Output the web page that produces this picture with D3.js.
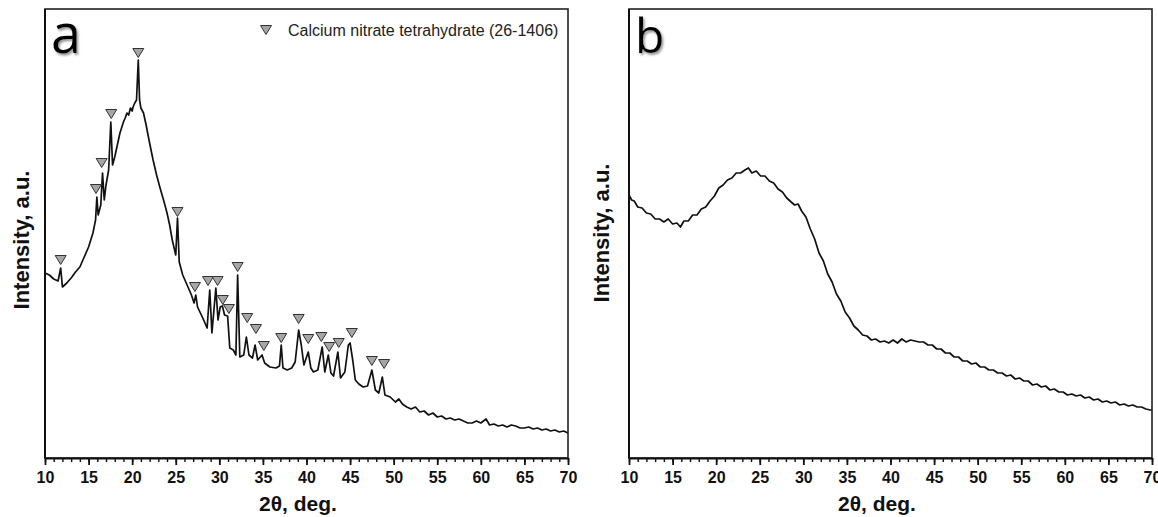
<!DOCTYPE html>
<html><head><meta charset="utf-8">
<script src="https://cdn.jsdelivr.net/npm/d3@7"></script>
<style>
html,body{margin:0;padding:0;background:#fff;}
svg{display:block;}
</style></head>
<body>
<svg id="chart" width="1158" height="517"></svg>
<script>
// ---------- DATA ----------
const xTickLabels = ["10","15","20","25","30","35","40","45","50","55","60","65","70"];
const legendLabel = "Calcium nitrate tetrahydrate (26-1406)";
const xTitle = "2\u03B8, deg.";
const yTitle = "Intensity, a.u.";

// Panel a: 2theta (deg) and intensity (a.u.)
const aTheta = [10.0,10.5,11.0,11.5,11.8,12.0,12.5,13.0,13.5,14.0,14.5,15.0,15.5,15.8,15.95,16.1,16.4,16.6,16.8,17.0,17.3,17.55,17.75,18.0,18.3,18.6,19.0,19.2,19.4,19.6,19.8,20.0,20.1,20.3,20.5,20.7,20.85,21.0,21.3,21.6,22.0,22.4,22.8,23.2,23.6,24.0,24.3,24.6,25.0,25.2,25.4,25.8,26.3,26.8,27.1,27.3,27.5,28.1,28.6,28.9,29.15,29.6,29.85,30.1,30.35,30.6,30.95,31.2,31.6,31.9,32.1,32.35,32.8,33.1,33.4,33.8,34.1,34.4,34.9,35.2,35.8,36.5,36.9,37.1,37.3,37.8,38.3,38.7,39.1,39.4,39.7,40.2,40.5,40.8,41.3,41.8,42.1,42.5,42.8,43.1,43.6,43.9,44.4,44.8,45.0,45.3,45.6,46.0,46.5,47.0,47.5,47.9,48.3,48.7,49.0,49.6,50.2,50.6,51.0,51.5,52.0,52.5,53.0,53.5,54.0,54.5,55.0,55.5,56.0,56.5,57.0,57.5,58.0,58.5,59.0,59.5,60.0,60.6,61.0,61.5,62.0,62.5,63.0,63.5,64.0,64.5,65.0,65.5,66.0,66.5,67.0,67.5,68.0,68.5,69.0,69.5,70.0];
const aIntensity = [185,183,179,177,190,171,175,180,186,191,201,211,225,238,261,243,253,285,258,273,288,336,293,301,313,325,336,340,345,343,350,347,351,355,358,398,358,350,345,333,315,298,283,270,258,245,233,218,203,240,196,183,173,163,155,163,151,140,130,168,125,170,138,151,152,143,142,110,108,103,183,101,103,121,103,100,113,98,103,95,91,90,92,113,90,88,90,96,128,113,93,106,90,86,88,111,86,103,85,82,106,80,86,113,115,98,78,74,71,72,88,68,65,81,63,61,56,59,54,51,49,51,46,47,43,45,41,42,39,40,38,39,37,35,35,37,35,39,33,34,32,33,31,33,32,30,30,31,29,30,28,29,27,28,26,27,25];

// Peak markers (Calcium nitrate tetrahydrate, 26-1406)
const markTheta = [11.8,15.85,16.5,17.6,20.7,25.2,27.2,28.7,29.8,30.4,31.1,32.1,33.2,34.2,35.1,37.1,39.1,40.2,41.7,42.6,43.7,45.2,47.5,48.9];
const markIntensity = [198,269,295,344,405,246,171,177,177,158,149,191,140,129,112,120,139,119,121,111,115,125,97,94];

// Panel b
const bTheta = [10.0,10.3,10.6,11.0,11.5,12.0,12.5,13.0,13.5,14.0,14.5,15.0,15.5,15.9,16.3,16.8,17.3,17.8,18.3,18.8,19.3,19.8,20.3,20.8,21.3,21.8,22.3,22.8,23.3,23.7,24.1,24.6,25.1,25.6,26.1,26.6,27.1,27.6,28.1,28.6,29.0,29.4,29.8,30.3,30.8,31.3,31.8,32.3,32.8,33.3,33.8,34.3,34.8,35.3,35.8,36.3,36.8,37.3,37.8,38.3,38.8,39.3,39.8,40.3,40.8,41.3,41.8,42.3,42.8,43.3,43.8,44.3,44.8,45.3,45.8,46.3,46.8,47.3,47.8,48.3,48.8,49.3,49.8,50.3,50.8,51.3,51.8,52.3,52.8,53.3,53.8,54.3,54.8,55.3,55.8,56.3,56.8,57.3,57.8,58.3,58.8,59.3,59.8,60.3,60.8,61.3,61.8,62.3,62.8,63.3,63.8,64.3,64.8,65.3,65.8,66.3,66.8,67.3,67.8,68.3,68.8,69.3,69.8,70.0];
const bIntensity = [263,258,257,251,250,245,244,239,239,236,239,234,235,231,237,237,243,243,249,251,257,262,270,273,278,280,285,285,288,290,285,287,282,282,277,275,269,266,260,256,253,254,247,241,229,219,205,197,184,176,164,157,146,140,132,128,123,122,118,119,116,117,115,118,115,119,116,118,117,116,116,113,113,109,109,105,105,101,101,97,97,94,95,91,91,88,88,85,85,82,83,79,80,77,77,73,74,71,72,68,69,66,66,63,64,62,63,60,61,58,59,56,57,55,56,53,54,52,53,51,51,49,48,48];

// ---------- LAYOUT ----------
const svg = d3.select("#chart");
const plotTop = 9, plotBottom = 458;
const FONT = "'Liberation Sans', Arial, Helvetica, sans-serif";

const defs = svg.append("defs");
const f = defs.append("filter").attr("id","shadow").attr("x","-20%").attr("y","-20%").attr("width","160%").attr("height","160%");
f.append("feDropShadow").attr("dx",1.5).attr("dy",2).attr("stdDeviation",1.2).attr("flood-color","#888").attr("flood-opacity",0.9);

function panel(left, right, theta, inten, letter, letterSize, yLabelX, yLabelY, titleX) {
  const x = d3.scaleLinear().domain([+xTickLabels[0], +xTickLabels[xTickLabels.length-1]]).range([left, right]);
  const y = d3.scaleLinear().domain([0, 449]).range([plotBottom, plotTop]);
  const g = svg.append("g");

  const line = d3.line().x((d,i)=>x(theta[i])).y((d,i)=>y(inten[i]));
  g.append("path").datum(inten).attr("d", line)
    .attr("fill","none").attr("stroke","#111").attr("stroke-width",1.7).attr("stroke-linejoin","round");

  g.append("rect").attr("x",left).attr("y",plotTop).attr("width",right-left).attr("height",plotBottom-plotTop)
    .attr("fill","none").attr("stroke","#222").attr("stroke-width",1.6);
  g.append("line").attr("x1",left).attr("x2",left).attr("y1",plotTop).attr("y2",plotBottom)
    .attr("stroke","#111").attr("stroke-width",2);

  const minor = d3.range(10, 71, 1);
  const minorAxis = d3.axisBottom(x).tickValues(minor).tickSize(4).tickFormat("");
  const gm = g.append("g").attr("transform",`translate(0,${plotBottom})`).call(minorAxis);
  gm.select(".domain").remove();
  gm.selectAll("line").attr("stroke","#111").attr("stroke-width",1.4);

  const majorAxis = d3.axisBottom(x).tickValues(xTickLabels.map(Number)).tickSize(7).tickSizeOuter(0).tickFormat((d,i)=>xTickLabels[i]);
  const ga = g.append("g").attr("transform",`translate(0,${plotBottom})`).call(majorAxis);
  ga.select(".domain").attr("stroke","#111").attr("stroke-width",2);
  ga.selectAll("line").attr("stroke","#111").attr("stroke-width",1.8);
  ga.selectAll("text").attr("y",25).attr("dy",0)
    .style("font-family",FONT).style("font-size","16px").style("font-weight","bold").attr("fill","#111");

  g.append("text").attr("x",titleX).attr("y",511).attr("text-anchor","middle")
    .style("font-family",FONT).style("font-size","21px").style("font-weight","bold").attr("fill","#111").text(xTitle);
  g.append("text").attr("transform",`translate(${yLabelX},${yLabelY}) rotate(-90)`).attr("text-anchor","middle")
    .style("font-family",FONT).style("font-size","22px").style("font-weight","bold").attr("fill","#111").text(yTitle);

  g.append("text").attr("x",left+6).attr("y",53)
    .style("font-family","'Open Sans', sans-serif").style("font-size",letterSize+"px").attr("fill","#000")
    .attr("filter","url(#shadow)").text(letter);
  return {x, y, g};
}

const A = panel(45, 568, aTheta, aIntensity, "a", 54, 29, 240, 298);
const B = panel(629, 1152, bTheta, bIntensity, "b", 48, 609, 233, 877);

const tri = "M-5.5,-4.5L5.5,-4.5L0,4.5Z";
A.g.selectAll("path.mk").data(markTheta).enter().append("path").attr("class","mk")
  .attr("d",tri).attr("transform",(d,i)=>`translate(${A.x(d)},${A.y(markIntensity[i])})`)
  .attr("fill","#a6a6a6").attr("stroke","#333").attr("stroke-width",1);

A.g.append("path").attr("d",tri).attr("transform","translate(266,30)")
  .attr("fill","#a6a6a6").attr("stroke","#333").attr("stroke-width",1);
A.g.append("text").attr("x",288).attr("y",35.5)
  .style("font-family",FONT).style("font-size","16px").attr("fill","#222").text(legendLabel);
</script>
</body></html>
